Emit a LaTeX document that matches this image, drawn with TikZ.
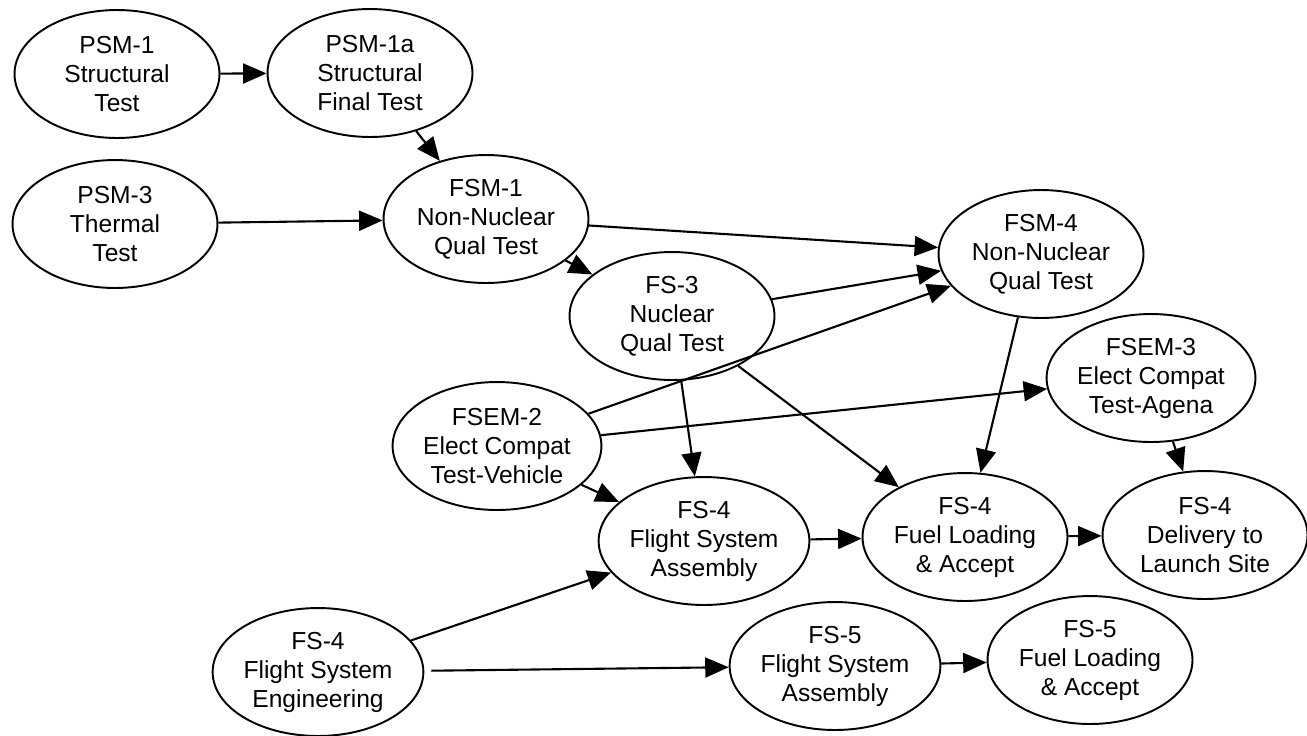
\documentclass[tikz,border=0pt]{standalone}
\usepackage{fontspec}
\setmainfont{Liberation Sans}
\usetikzlibrary{shapes.geometric,arrows.meta}

\begin{document}
\begin{tikzpicture}[x=0.02cm,y=-0.02cm,
    task/.style={ellipse,draw=black,line width=1.1pt,minimum width=4.1cm,minimum height=2.56cm,
        inner sep=0pt,align=center,font=\fontsize{14}{16.5}\selectfont},
    flow/.style={line width=1.2pt,-{Triangle[length=4.7mm,width=4mm]}}]
    \useasboundingbox (0,0) rectangle (1307,735);

    % Place the test articles
    \node[task] (psm1) at (117,74) {PSM-1\\Structural\\Test};
    \node[task] (psm1a) at (370,73) {PSM-1a\\Structural\\Final Test};
    \node[task] (psm3) at (115,224) {PSM-3\\Thermal\\Test};
    \node[task] (fsm1) at (486,219) {FSM-1\\Non-Nuclear\\Qual Test};
    \node[task] (fs3) at (672,316) {FS-3\\Nuclear\\Qual Test};
    \node[task] (fsm4) at (1041,254) {FSM-4\\Non-Nuclear\\Qual Test};
    \node[task] (fsem3) at (1151,378) {FSEM-3\\Elect Compat\\Test-Agena};
    \node[task] (fsem2) at (497,446) {FSEM-2\\Elect Compat\\Test-Vehicle};

    % Place the flight systems
    \node[task] (fs4asm) at (704,541) {FS-4\\Flight System\\Assembly};
    \node[task] (fs4fuel) at (965,537) {FS-4\\Fuel Loading\\\& Accept};
    \node[task] (fs4dlv) at (1205,535) {FS-4\\Delivery to\\Launch Site};
    \node[task] (fs4eng) at (318,672) {FS-4\\Flight System\\Engineering};
    \node[task] (fs5asm) at (835,666) {FS-5\\Flight System\\Assembly};
    \node[task] (fs5fuel) at (1090,660) {FS-5\\Fuel Loading\\\& Accept};

    % The arrows!
    \draw[flow] (psm1) -- (psm1a);
    \draw[flow] (psm1a) -- (fsm1);
    \draw[flow] (psm3) -- (fsm1);
    \draw[flow] (fsm1) -- (fsm4);
    \draw[flow] (fsm1) -- (fs3);
    \draw[flow] (fs3) -- (fsm4);
    \draw[flow] (fsem2) -- (fsm4);
    \draw[flow] (fsem2) -- (fsem3);
    \draw[flow] (fsem2) -- (fs4asm);
    \draw[flow] (fs3) -- (fs4asm);
    \draw[flow] (fs3) -- (fs4fuel);
    \draw[flow] (fsm4.250) -- (fs4fuel);
    \draw[flow] (fsem3) -- (fs4dlv);
    \draw[flow] (fs4asm) -- (fs4fuel);
    \draw[flow] (fs4fuel) -- (fs4dlv);
    \draw[flow] (fs4eng) -- (fs4asm);
    \draw[flow,shorten <=4pt] (fs4eng) -- (fs5asm);
    \draw[flow] (fs5asm) -- (fs5fuel);
\end{tikzpicture}
\end{document}
